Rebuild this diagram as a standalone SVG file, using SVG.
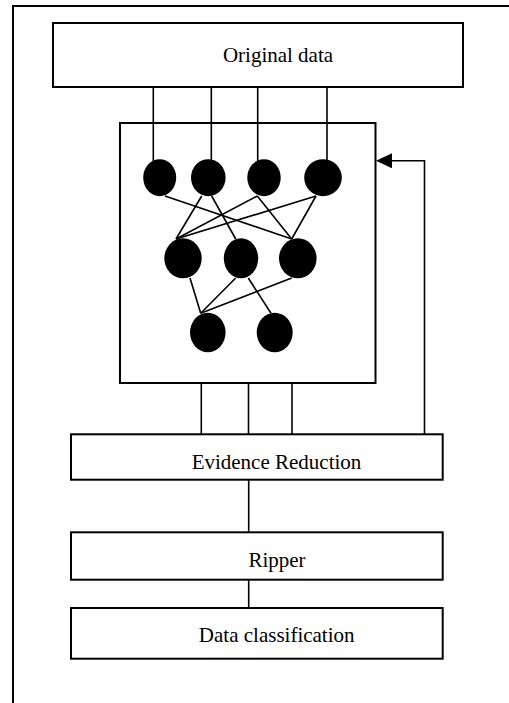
<svg xmlns="http://www.w3.org/2000/svg" width="509" height="703" viewBox="0 0 509 703">
<style>
.box{fill:#fff;stroke:#000;stroke-width:2}
.frame{fill:none;stroke:#000;stroke-width:2}
.lbl{font-family:"Liberation Serif","Times New Roman",serif;font-size:21px;fill:#000;text-anchor:middle}
.ln{stroke:#000;stroke-width:1.6;fill:none}
.nd{fill:#000}
</style>
<defs>
<marker id="arr" markerWidth="16" markerHeight="16" refX="16" refY="7.5" orient="auto" markerUnits="userSpaceOnUse">
<path d="M0,0 L16,7.5 L0,15 Z" fill="#000" transform="translate(16,15) rotate(180)"/>
</marker>
</defs>
<rect class="frame" x="13" y="6" width="520" height="720"/>
<g id="connectors">
<line class="ln" x1="153.3" y1="87" x2="153.3" y2="162"/>
<line class="ln" x1="211.3" y1="87" x2="211.3" y2="161"/>
<line class="ln" x1="257.7" y1="87" x2="257.7" y2="161"/>
<line class="ln" x1="327" y1="87" x2="327" y2="161"/>
<line class="ln" x1="165" y1="196" x2="291.7" y2="239"/>
<line class="ln" x1="201.7" y1="196" x2="176" y2="239"/>
<line class="ln" x1="211.7" y1="196" x2="235.7" y2="239"/>
<line class="ln" x1="257.3" y1="196" x2="176" y2="239"/>
<line class="ln" x1="257.3" y1="196" x2="291.7" y2="239"/>
<line class="ln" x1="316" y1="196" x2="176" y2="239"/>
<line class="ln" x1="316" y1="196" x2="291.7" y2="239"/>
<line class="ln" x1="190" y1="278" x2="200.7" y2="313.3"/>
<line class="ln" x1="235.7" y1="278" x2="200.7" y2="313.3"/>
<line class="ln" x1="291.7" y1="278" x2="200.7" y2="313.3"/>
<line class="ln" x1="248.3" y1="278" x2="271" y2="313.3"/>
<line class="ln" x1="201.3" y1="383" x2="201.3" y2="434"/>
<line class="ln" x1="248.5" y1="383" x2="248.5" y2="434"/>
<line class="ln" x1="292" y1="383" x2="292" y2="434"/>
<line class="ln" x1="248.7" y1="480" x2="248.7" y2="532"/>
<line class="ln" x1="248.7" y1="580" x2="248.7" y2="608"/>
<path class="ln" d="M424.5,434 V160.7 H391"/>
<path d="M376,160.7 L392,153.2 L392,168.2 Z" fill="#000"/>
</g>
<g id="original-data">
<rect class="box" x="53" y="23" width="410" height="64"/>
<text class="lbl" x="278" y="62">Original data</text>
</g>
<g id="network">
<rect class="frame" x="120" y="123" width="255.5" height="260"/>
<ellipse class="nd" cx="159.7" cy="177.7" rx="16.5" ry="18.5"/>
<ellipse class="nd" cx="208.3" cy="177.7" rx="17.3" ry="18.5"/>
<ellipse class="nd" cx="264" cy="177.7" rx="16.7" ry="18.5"/>
<ellipse class="nd" cx="323" cy="177.7" rx="18.8" ry="18.5"/>
<ellipse class="nd" cx="183" cy="258.3" rx="18.7" ry="20"/>
<ellipse class="nd" cx="241" cy="258.3" rx="17.2" ry="20"/>
<ellipse class="nd" cx="297.8" cy="258.3" rx="18.8" ry="20"/>
<ellipse class="nd" cx="207.8" cy="332.5" rx="17.8" ry="19.8"/>
<ellipse class="nd" cx="274.7" cy="332.5" rx="18" ry="19.8"/>
</g>
<g id="evidence-reduction">
<rect class="box" x="71" y="434.3" width="371.7" height="45.4"/>
<text class="lbl" x="276.5" y="469">Evidence Reduction</text>
</g>
<g id="ripper">
<rect class="box" x="71" y="532.3" width="371.7" height="47.4"/>
<text class="lbl" x="277" y="566.5">Ripper</text>
</g>
<g id="data-classification">
<rect class="box" x="71" y="608" width="371.7" height="50.7"/>
<text class="lbl" x="276.7" y="641.5">Data classification</text>
</g>
</svg>
